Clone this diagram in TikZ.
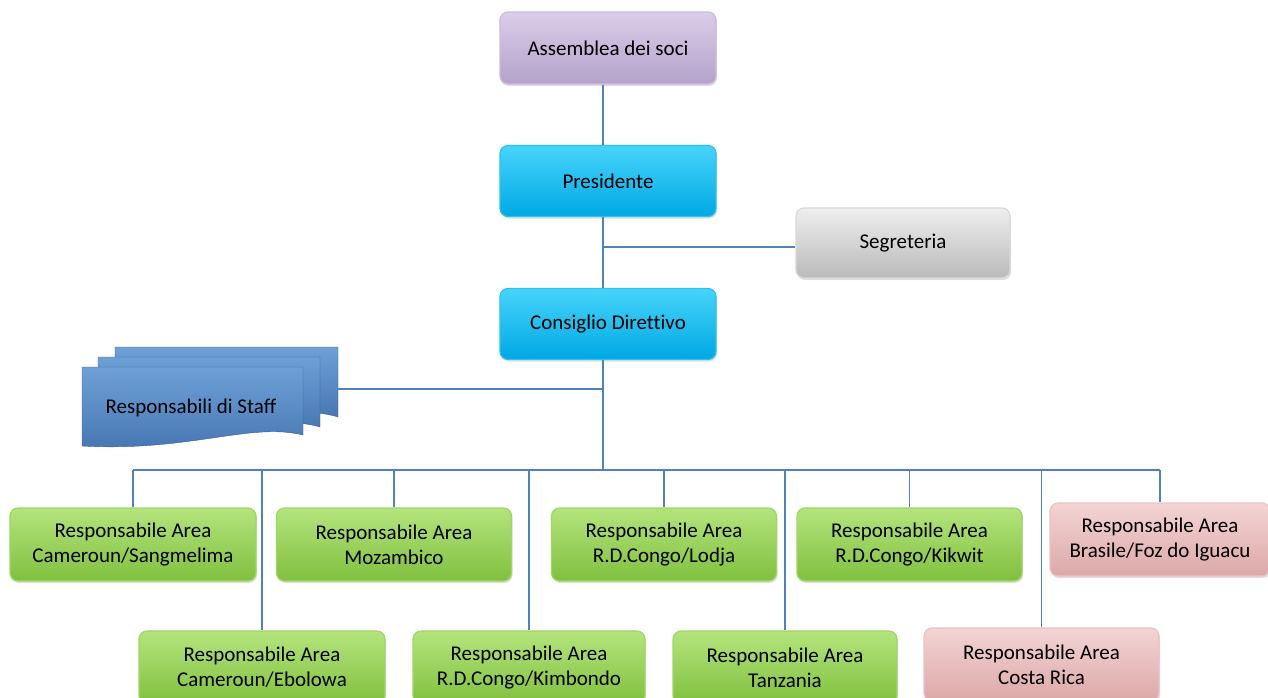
\documentclass[tikz,border=0pt]{standalone}
\usepackage{fontspec}
\setmainfont[Ligatures=NoCommon]{Carlito}
\usetikzlibrary{shadows}
\definecolor{ln}{RGB}{79,129,189}
\definecolor{pT}{RGB}{218,205,232}\definecolor{pB}{RGB}{180,162,202}
\definecolor{cT}{RGB}{70,212,250}\definecolor{cB}{RGB}{0,168,228}
\definecolor{gT}{RGB}{238,238,238}\definecolor{gB}{RGB}{186,186,186}
\definecolor{vT}{RGB}{180,228,125}\definecolor{vB}{RGB}{128,192,62}
\definecolor{rT}{RGB}{244,212,212}\definecolor{rB}{RGB}{220,168,168}
\definecolor{sT}{RGB}{110,160,215}\definecolor{sB}{RGB}{70,118,178}
\tikzset{
  box/.style={rounded corners=8pt, align=center, inner sep=0pt,
    font=\fontsize{21}{25}\selectfont, line width=1.2pt,
    drop shadow={opacity=0.25, shadow xshift=1pt, shadow yshift=-2pt}},
  lilla/.style={box, top color=pT, bottom color=pB, draw=pT!60!pB},
  ciano/.style={box, top color=cT, bottom color=cB, draw=cT!60!cB},
  grigio/.style={box, top color=gT, bottom color=gB, draw=gT!60!gB},
  verde/.style={box, top color=vT, bottom color=vB, draw=vT!60!vB},
  rosa/.style={box, top color=rT, bottom color=rB, draw=rT!60!rB},
  conn/.style={draw=ln, line width=1.5pt},
  doc/.style={top color=sT, bottom color=sB, draw=sB!80!black, line width=0.4pt}
}
\begin{document}
\begin{tikzpicture}[x=1pt,y=-1pt]
\useasboundingbox (0,0) rectangle (1268,697);
\clip (0,0) rectangle (1268,697);
\coordinate (spine) at (603,0);
\coordinate (busy) at (0,470);
\coordinate (staffR) at (338,389);

\node[lilla, minimum width=216pt, minimum height=72pt] (ass) at (608,48) {Assemblea dei soci};
\node[ciano, minimum width=216pt, minimum height=71pt] (pres) at (608,181) {Presidente};
\node[grigio, minimum width=214pt, minimum height=70pt] (seg) at (903,243) {Segreteria};
\node[ciano, minimum width=216pt, minimum height=71pt] (cons) at (608,324) {Consiglio Direttivo};

\node[verde, minimum width=246pt, minimum height=73pt] (n1) at (133,544.5) {Responsabile Area\\Cameroun/Sangmelima};
\node[verde, minimum width=235pt, minimum height=73pt] (n2) at (394,544.5) {Responsabile Area\\Mozambico};
\node[verde, minimum width=225pt, minimum height=73pt] (n3) at (664,544.5) {Responsabile Area\\R.D.Congo/Lodja};
\node[verde, minimum width=225pt, minimum height=73pt] (n4) at (909.5,544.5) {Responsabile Area\\R.D.Congo/Kikwit};
\node[rosa, minimum width=220pt, minimum height=73pt] (n5) at (1160,539.5) {Responsabile Area\\Brasile/Foz do Iguacu};

\node[verde, minimum width=246pt, minimum height=73pt] (m1) at (262,667.5) {Responsabile Area\\Cameroun/Ebolowa};
\node[verde, minimum width=232pt, minimum height=73pt] (m2) at (529,667.5) {Responsabile Area\\R.D.Congo/Kimbondo};
\node[verde, minimum width=224pt, minimum height=73pt] (m3) at (785,667.5) {Responsabile Area\\Tanzania};
\node[rosa, minimum width=235pt, minimum height=73pt] (m4) at (1041.5,664.5) {Responsabile Area\\Costa Rica};

% staff (multiple documents)
\path[doc] (115,347) -- (338,347) -- (338,417) .. controls (300,405) and (250,420) .. (115,418) -- cycle;
\path[doc] (98,357) -- (320,357) -- (320,427) .. controls (280,415) and (230,432) .. (98,428) -- cycle;
\path[doc] (82,367) -- (303,367) -- (303,435) .. controls (250,422) and (190,452) .. (82,446) -- cycle;
\node[font=\fontsize{21}{25}\selectfont] (staff) at (191,408) {Responsabili di Staff};

% lines
\draw[conn] (ass.south -| spine) -- (pres.north -| spine);
\draw[conn] (pres.south -| spine) -- (cons.north -| spine);
\draw[conn] (seg.west |- 0,247) -- (spine |- 0,247);
\draw[conn] (cons.south -| spine) -- (spine |- busy);
\draw[conn] (staffR) -- (staffR -| spine);
\draw[conn] (n1.north |- busy) -- (n5.north |- busy);
\foreach \n in {n1,n2,n3,n4,n5,m1,m2,m3,m4} \draw[conn] (\n.north |- busy) -- (\n.north);
\end{tikzpicture}
\end{document}
